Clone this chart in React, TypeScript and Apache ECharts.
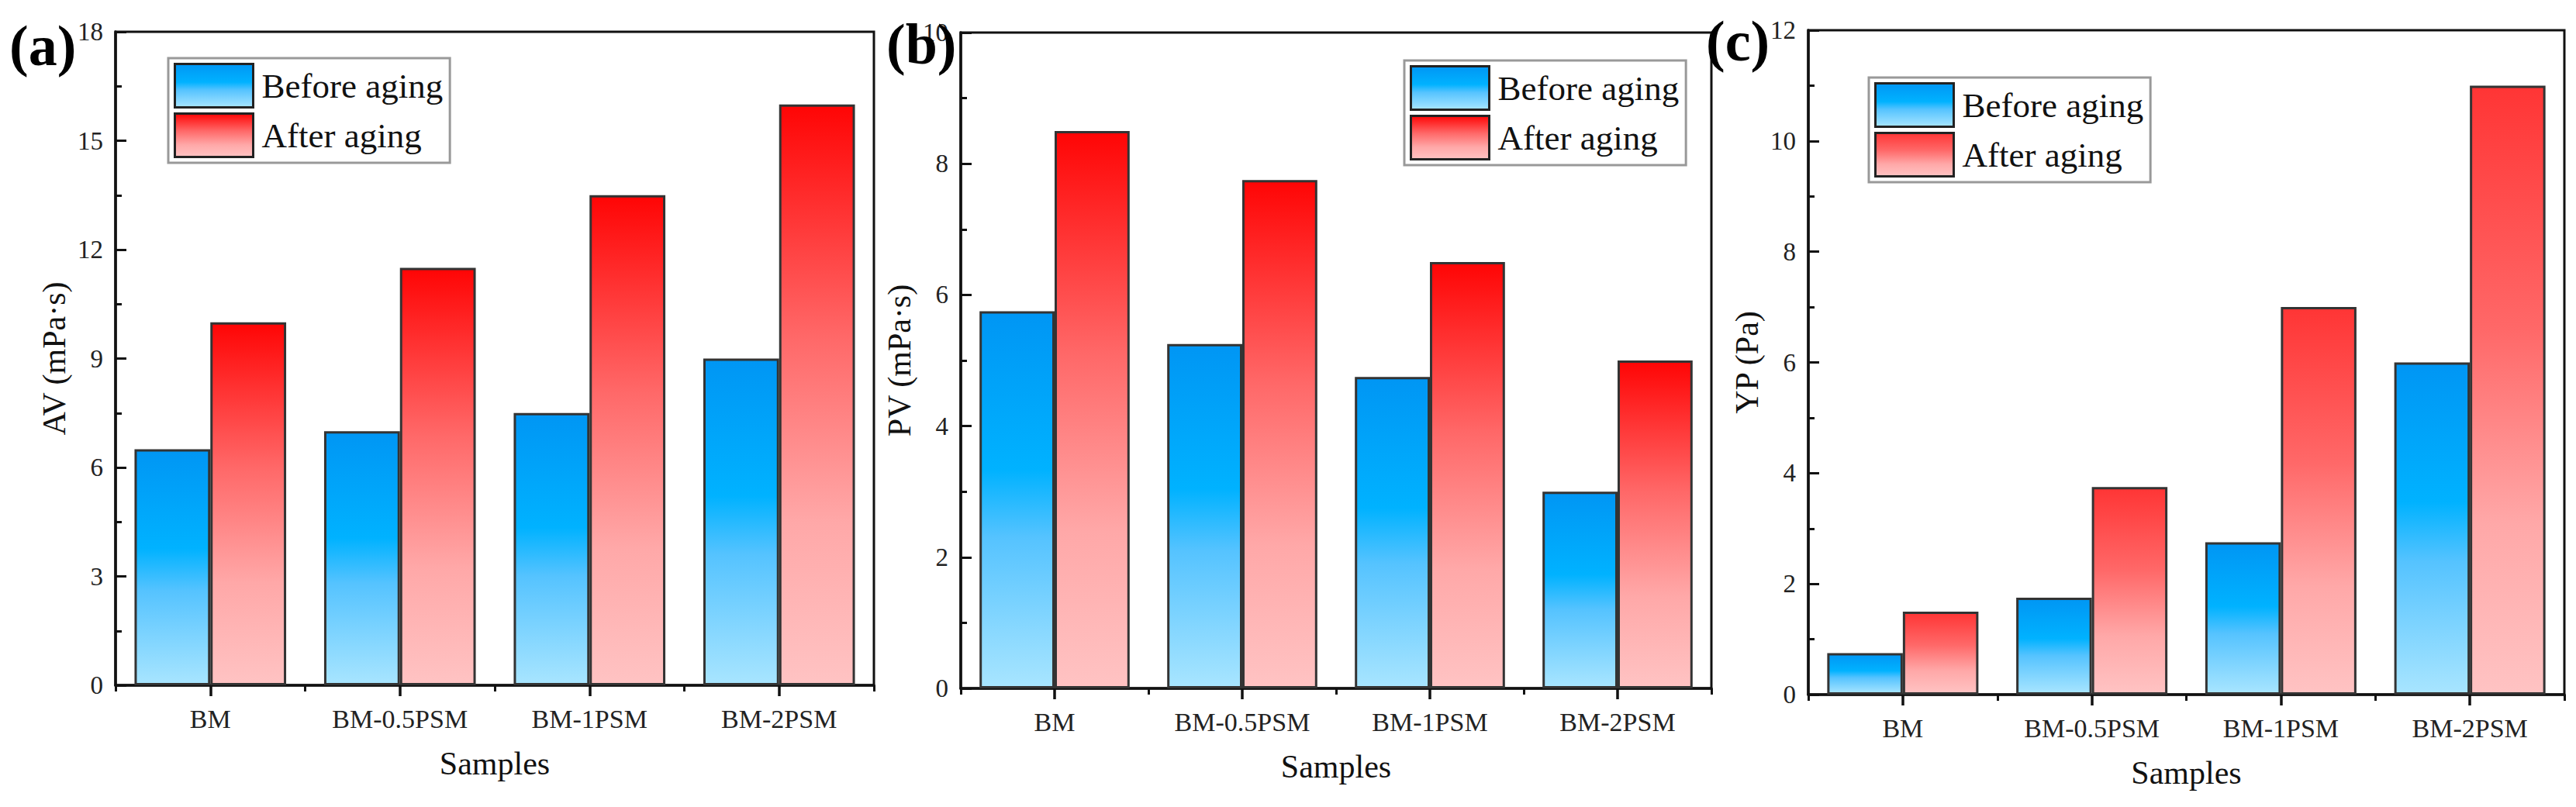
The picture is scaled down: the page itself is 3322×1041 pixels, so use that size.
import React, { useEffect, useRef } from 'react';
import * as echarts from 'echarts';

const W = 3322;
const H = 1041;
const FONT = "'Liberation Serif', 'Times New Roman', serif";

const categories = ['BM', 'BM-0.5PSM', 'BM-1PSM', 'BM-2PSM'];
const seriesNames = ['Before aging', 'After aging'];

const avBefore = [6.5, 7, 7.5, 9];
const avAfter = [10, 11.5, 13.5, 16];
const pvBefore = [5.75, 5.25, 4.75, 3];
const pvAfter = [8.5, 7.75, 6.5, 5];
const ypBefore = [0.75, 1.75, 2.75, 6];
const ypAfter = [1.5, 3.75, 7, 11];

const panelLabels = ['(a)', '(b)', '(c)'];
const yTitles = ['AV (mPa·s)', 'PV (mPa·s)', 'YP (Pa)'];
const yMax = [18, 10, 12];
const yInterval = [3, 2, 2];
const xTitle = 'Samples';

const blueGrad = () =>
  new echarts.graphic.LinearGradient(0, 0, 0, 1, [
    { offset: 0, color: '#0096F4' },
    { offset: 0.42, color: '#00B2FF' },
    { offset: 0.6, color: '#55C3FF' },
    { offset: 1, color: '#A8E5FF' },
  ]);

const redGrad = (top: string) =>
  new echarts.graphic.LinearGradient(0, 0, 0, 1, [
    { offset: 0, color: top },
    { offset: 0.4, color: '#FF6868' },
    { offset: 0.72, color: '#FFA8A8' },
    { offset: 1, color: '#FFC3C3' },
  ]);

const redTops = ['#FF0505', '#FF0505', '#FF3535'];

const grids = [
  { left: 149, top: 41, width: 978, height: 843 },
  { left: 1239, top: 42, width: 968, height: 846 },
  { left: 2332, top: 39, width: 975, height: 857 },
];
const legendPos = [
  { left: 217, top: 75 },
  { left: 1811, top: 78 },
  { left: 2410, top: 100 },
];
const labelPos = [
  { left: 12, top: 22 },
  { left: 1143, top: 20 },
  { left: 2200, top: 16 },
];

function buildOption() {
  const data = [
    [avBefore, avAfter],
    [pvBefore, pvAfter],
    [ypBefore, ypAfter],
  ];
  const axisColor = '#111';
  const grid: any[] = [];
  const xAxis: any[] = [];
  const yAxis: any[] = [];
  const series: any[] = [];
  const legend: any[] = [];
  const graphic: any[] = [];

  for (let i = 0; i < 3; i++) {
    grid.push({
      ...grids[i],
      show: true,
      borderColor: axisColor,
      borderWidth: 3,
      backgroundColor: 'transparent',
    });
    xAxis.push({
      type: 'category',
      gridIndex: i,
      data: categories,
      position: 'bottom',
      name: xTitle,
      nameLocation: 'middle',
      nameGap: 80,
      nameTextStyle: { fontFamily: FONT, fontSize: 42, color: '#111' },
      axisLine: { show: true, lineStyle: { color: axisColor, width: 3.5 } },
      axisTick: { show: true, alignWithLabel: true, length: 14, lineStyle: { color: axisColor, width: 3.5 } },
      axisLabel: { fontFamily: FONT, fontSize: 34, color: '#222', margin: 26 },
      splitLine: { show: false },
    });
    xAxis.push({
      type: 'category',
      gridIndex: i,
      data: categories,
      position: 'bottom',
      axisLine: { show: false },
      axisTick: { show: true, alignWithLabel: false, length: 8, lineStyle: { color: axisColor, width: 3 } },
      axisLabel: { show: false },
      splitLine: { show: false },
    });
    yAxis.push({
      type: 'value',
      gridIndex: i,
      min: 0,
      max: yMax[i],
      interval: yInterval[i],
      name: yTitles[i],
      nameLocation: 'middle',
      nameGap: 58,
      nameTextStyle: { fontFamily: FONT, fontSize: 42, color: '#111' },
      axisLine: { show: true, lineStyle: { color: axisColor, width: 3.5 } },
      axisTick: { show: true, inside: true, length: 14, lineStyle: { color: axisColor, width: 3 } },
      minorTick: { show: true, splitNumber: 2, length: 8, lineStyle: { color: axisColor, width: 3 } },
      axisLabel: { fontFamily: FONT, fontSize: 33, color: '#222', margin: 16 },
      splitLine: { show: false },
      minorSplitLine: { show: false },
    });
    const colors = [blueGrad(), redGrad(redTops[i])];
    for (let s = 0; s < 2; s++) {
      series.push({
        type: 'bar',
        name: seriesNames[s],
        xAxisIndex: i * 2,
        yAxisIndex: i,
        data: data[i][s],
        barGap: '0%',
        barCategoryGap: '20%',
        itemStyle: { color: colors[s], borderColor: '#333', borderWidth: 3 },
        emphasis: { disabled: true },
      });
    }
    legend.push({
      ...legendPos[i],
      orient: 'vertical',
      icon: 'rect',
      itemWidth: 101,
      itemHeight: 56,
      itemGap: 5,
      padding: [6, 9, 6, 7],
      borderColor: '#999',
      borderWidth: 3,
      backgroundColor: '#fff',
      selectedMode: false,
      textStyle: { fontFamily: FONT, fontSize: 45, color: '#111', padding: [0, 0, 0, 6] },
      data: seriesNames.map((n, s) => ({
        name: n,
        itemStyle: { color: s === 0 ? blueGrad() : redGrad(redTops[i]), borderColor: '#222', borderWidth: 3 },
      })),
    });
    graphic.push({
      type: 'text',
      left: labelPos[i].left,
      top: labelPos[i].top,
      z: 100,
      style: {
        text: panelLabels[i],
        fontFamily: FONT,
        fontSize: 74,
        fontWeight: 'bold',
        fill: '#000',
      },
    });
  }

  return {
    animation: false,
    backgroundColor: '#fff',
    textStyle: { fontFamily: FONT },
    grid,
    xAxis,
    yAxis,
    series,
    legend,
    graphic,
  };
}

export default function App() {
  const ref = useRef<HTMLDivElement>(null);
  useEffect(() => {
    if (!ref.current) return;
    const chart = echarts.init(ref.current, null, { renderer: 'svg', width: W, height: H });
    chart.setOption(buildOption());
    return () => chart.dispose();
  }, []);
  return (
    <div
      ref={ref}
      style={{ position: 'fixed', left: 0, top: 0, width: W, height: H, background: '#fff' }}
    />
  );
}
